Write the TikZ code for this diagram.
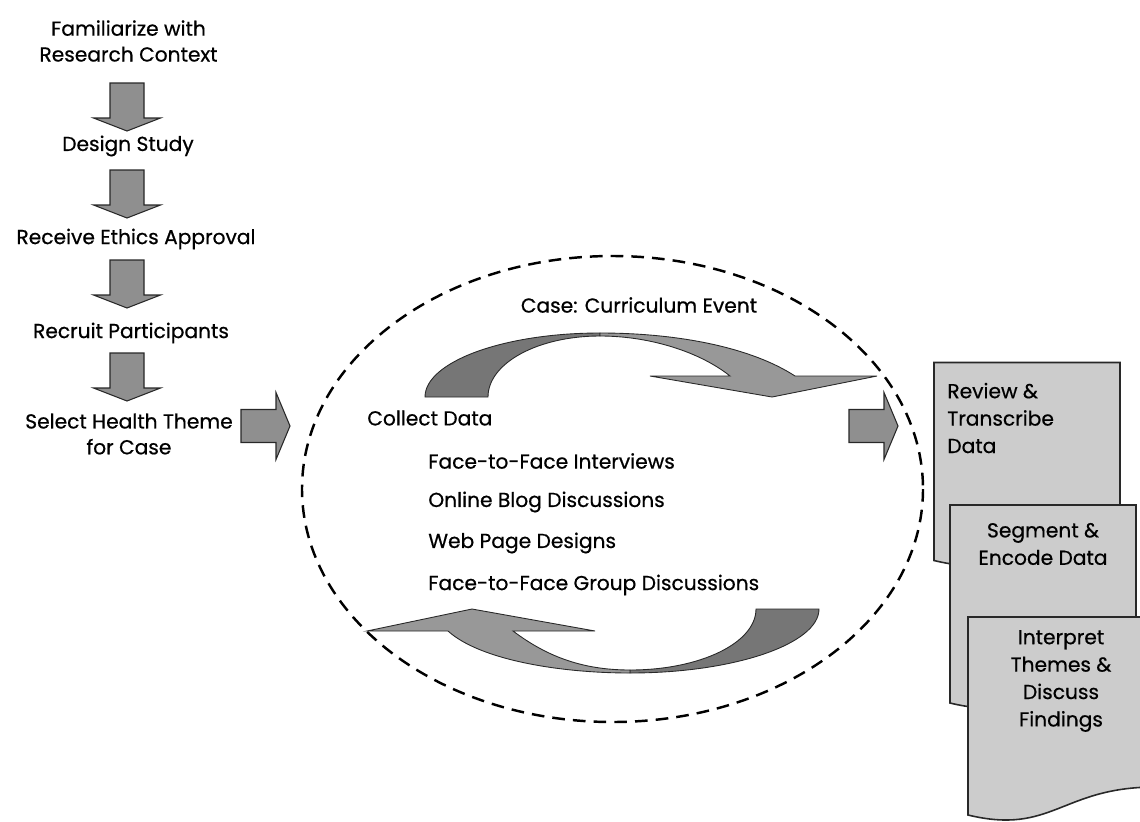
\documentclass[tikz,border=0pt]{standalone}
\usepackage{fontspec}
\setmainfont{Poppins}[FakeBold=0.6]
\definecolor{blockgray}{RGB}{143,143,143}
\definecolor{arcdark}{RGB}{118,118,118}
\definecolor{arclight}{RGB}{152,152,152}
\definecolor{pagegray}{RGB}{204,204,204}
\definecolor{inkline}{RGB}{40,40,40}
\tikzset{
  lbl/.style={font=\fontsize{11.5}{14.7}\selectfont, align=center, inner sep=0pt, text=black},
  item/.style={font=\fontsize{11.5}{14.7}\selectfont, anchor=west, inner sep=0pt, text=black},
  doctext/.style={font=\fontsize{11.5}{15.6}\selectfont, inner sep=0pt, text=black},
  blockarrow/.style={fill=blockgray, draw=inkline, line width=0.6pt, line join=miter},
  arcpart/.style={draw=inkline, line width=0.5pt, line join=miter},
  pagebox/.style={fill=pagegray, draw=inkline, line width=0.9pt},
  pics/downblock/.style={code={
    \draw[blockarrow] (-17,0) -- (17,0) -- (17,35) -- (33.5,35) -- (0,48)
      -- (-33.5,35) -- (-17,35) -- cycle;}},
  pics/rightblock/.style={code={
    \draw[blockarrow] (0,-16.5) -- (35,-16.5) -- (35,-33.5) -- (49,0)
      -- (35,33.5) -- (35,16.5) -- (0,16.5) -- cycle;}},
  pics/docpage/.style n args={2}{code={
    \draw[pagebox] (0,0) -- (#1,0) -- (#1,{0.802*#2})
      .. controls ({0.5*#1},{0.802*#2}) and ({0.45*#1},{1.03*#2}) .. (0,{0.934*#2}) -- cycle;}},
}
\begin{document}
\begin{tikzpicture}[x=0.02cm,y=-0.02cm]
\clip (0,0) rectangle (1140,822);
\fill[white] (0,0) rectangle (1140,822);

% preparation steps, left column
\node[lbl] (fam)    at (128.5,41)  {Familiarize with\\Research Context};
\node[lbl] (design) at (128,146)   {Design Study};
\node[lbl] (ethics) at (136,239)   {Receive Ethics Approval};
\node[lbl] (recruit) at (131,333)  {Recruit Participants};
\node[lbl] (theme)  at (129,434)   {Select Health Theme\\for Case};

\pic at (127,83)  {downblock};
\pic at (127,170) {downblock};
\pic at (127,260) {downblock};
\pic at (127,353) {downblock};

\pic at (241,426) {rightblock};

% the case: a dashed boundary around the data collection loop
\draw[line width=1.4pt, dash pattern=on 7.2pt off 4.6pt]
  (612.5,489) ellipse [x radius=310.5, y radius=233];

\node[lbl] (case) at (639,305) {Case: Curriculum Event};

% upper curved arrow (tail dark, head light)
\filldraw[arcpart, fill=arcdark]
  (425,397) .. controls (425,362) and (503,333) .. (600,333)
  -- (600,336) .. controls (538,336) and (488,363) .. (488,397) -- cycle;
\filldraw[arcpart, fill=arclight]
  (600,333) .. controls (680,333) and (752,348) .. (795,376)
  -- (877,376) -- (772,397) -- (650,376) -- (730,376)
  .. controls (700,352) and (650,336) .. (600,336) -- cycle;

% lower curved arrow (tail dark, head light)
\filldraw[arcpart, fill=arcdark]
  (819,609) .. controls (819,644) and (734,673) .. (630,673)
  -- (630,670) .. controls (700,670) and (756,643) .. (756,609) -- cycle;
\filldraw[arcpart, fill=arclight]
  (630,673) .. controls (560,673) and (480,660) .. (448,631)
  -- (367,631) -- (472,609) -- (595,631) -- (513,631)
  .. controls (545,655) and (580,670) .. (630,670) -- cycle;

\node[item] (collect) at (367,418) {Collect Data};
\node[item] (ftf)     at (428,461) {Face-to-Face Interviews};
\node[item] (blog)    at (428,502) {Online Blog Discussions};
\node[item] (web)     at (428,543) {Web Page Designs};
\node[item] (group)   at (428,585) {Face-to-Face Group Discussions};

\pic at (849,426) {rightblock};

% analysis pages
\pic at (934,362.5) {docpage={186}{212}};
\node[doctext, anchor=west, align=left] (review) at (947,418) {Review \&\\Transcribe\\Data};
\pic at (950,505) {docpage={186}{212}};
\node[doctext, align=center] (segment) at (1043,544) {Segment \&\\Encode Data};
\pic at (968,617) {docpage={187}{212}};
\node[doctext, align=center] (interpret) at (1061,681) {Interpret\\Themes \&\\Discuss\\Findings};
\end{tikzpicture}
\end{document}
